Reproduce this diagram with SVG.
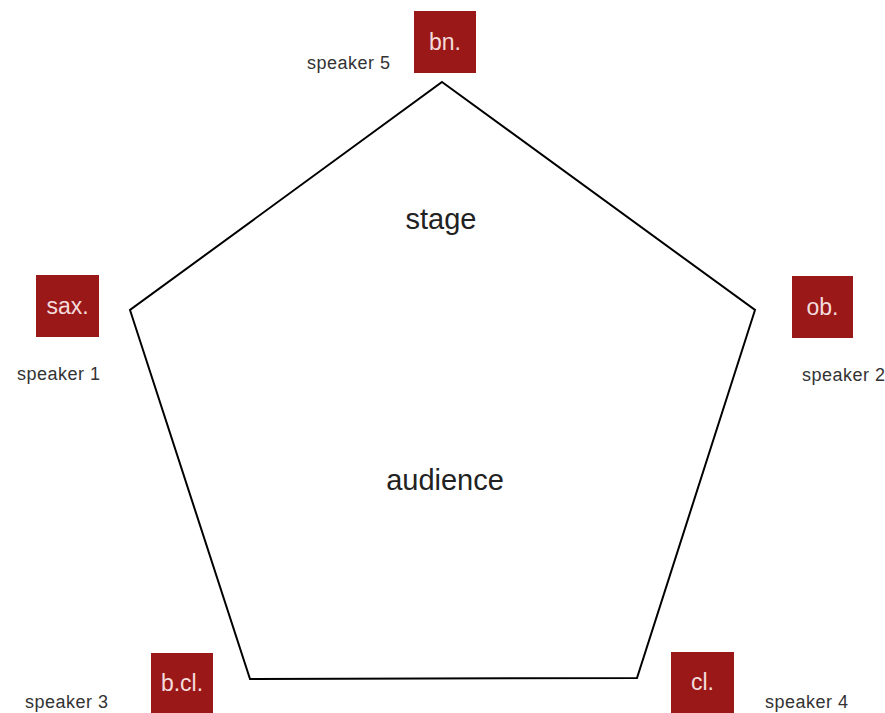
<svg xmlns="http://www.w3.org/2000/svg" width="885" height="713" viewBox="0 0 885 713">
<style>
.box{fill:#9a1818}
.bt{font-family:"Liberation Sans",Arial,sans-serif;font-size:23px;fill:#f3dcdc;text-anchor:middle}
.lbl{font-family:"Liberation Sans",Arial,sans-serif;font-size:18px;letter-spacing:0.5px;fill:#333}
.big{font-family:"Liberation Sans",Arial,sans-serif;font-size:29px;fill:#222;text-anchor:middle}
</style>
<rect width="885" height="713" fill="#fff"/>
<g id="connectors">
<polygon points="442,82 755,310 637,678 250,679 130,310" fill="none" stroke="#000" stroke-width="2" stroke-linejoin="miter"/>
</g>
<g id="stage"><text class="big" x="441" y="229">stage</text></g>
<g id="audience"><text class="big" x="445" y="490">audience</text></g>
<g id="bn"><rect class="box" x="414" y="11" width="62" height="62"/><text class="bt" x="445" y="50">bn.</text><text class="lbl" x="307" y="69">speaker 5</text></g>
<g id="sax"><rect class="box" x="36" y="275" width="63" height="62"/><text class="bt" x="67.5" y="314">sax.</text><text class="lbl" x="17" y="380">speaker 1</text></g>
<g id="ob"><rect class="box" x="792" y="276" width="61" height="62"/><text class="bt" x="822.5" y="315">ob.</text><text class="lbl" x="802" y="381">speaker 2</text></g>
<g id="bcl"><rect class="box" x="151" y="653" width="62" height="62"/><text class="bt" x="182" y="691">b.cl.</text><text class="lbl" x="25" y="708">speaker 3</text></g>
<g id="cl"><rect class="box" x="671" y="652" width="63" height="62"/><text class="bt" x="702.5" y="690">cl.</text><text class="lbl" x="765" y="708">speaker 4</text></g>
</svg>
